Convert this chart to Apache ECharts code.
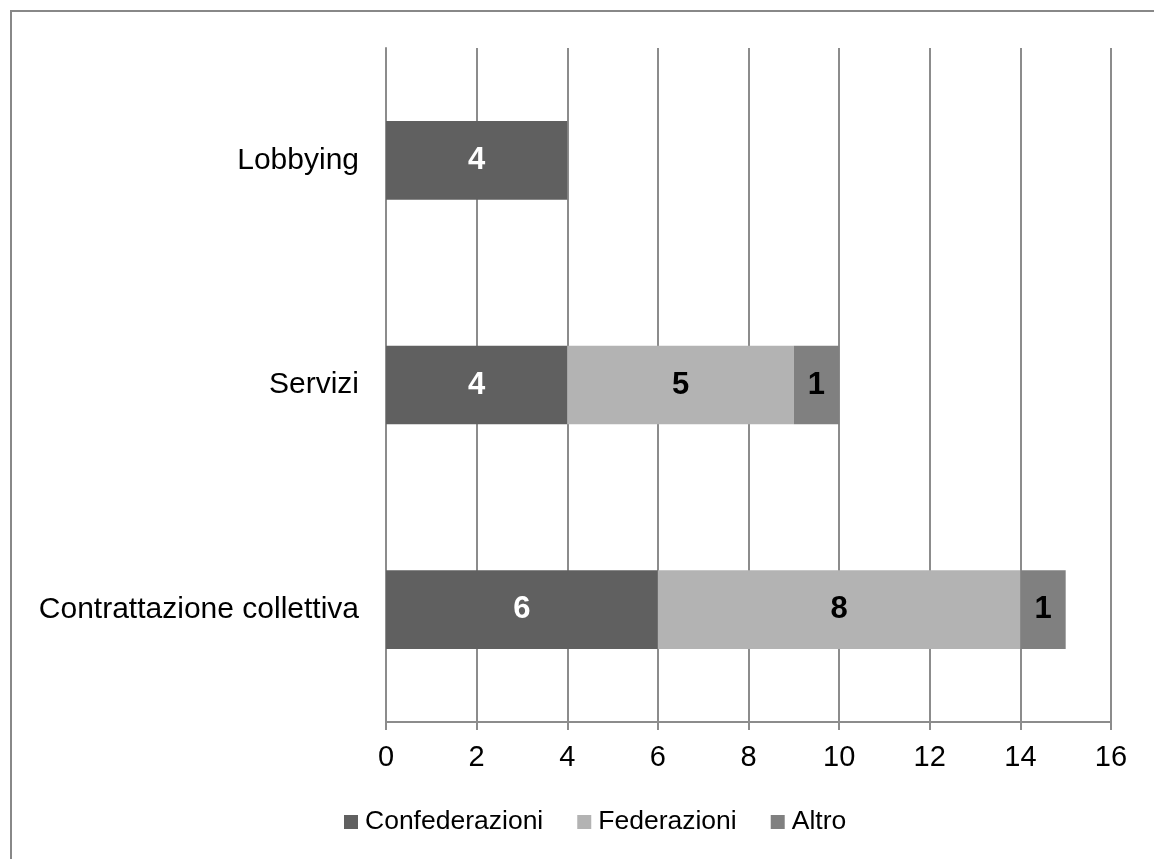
<!DOCTYPE html>
<html>
<head>
<meta charset="utf-8">
<title>Attività per tipo di organizzazione</title>
<script src="https://cdn.jsdelivr.net/npm/echarts@6/dist/echarts.min.js"></script>
<style>
  html, body { margin: 0; padding: 0; background: #ffffff; }
  #chart { width: 1154px; height: 859px; }
</style>
</head>
<body>
<div id="chart"></div>
<script>
// Categories listed bottom to top
const categories = ['Contrattazione collettiva', 'Servizi', 'Lobbying'];
const confederazioni = [6, 4, 4];
const federazioni = [8, 5, null];
const altro = [1, 1, null];
const xTicks = { min: 0, max: 16, interval: 2 };

const FONT = "'Liberation Sans', Arial, sans-serif";
const GRID_COLOR = '#8c8c8c';

function barSeries(name, data, color, labelColor) {
  return {
    name: name,
    type: 'bar',
    stack: 'tot',
    data: data,
    barWidth: '35%',
    itemStyle: { color: color },
    label: {
      show: true,
      position: 'inside',
      color: labelColor,
      fontFamily: FONT,
      fontSize: 31,
      fontWeight: 'bold',
      formatter: p => (p.value ? String(p.value) : '')
    },
    emphasis: { disabled: true }
  };
}

const chart = echarts.init(document.getElementById('chart'), null, { renderer: 'canvas' });
chart.setOption({
  animation: false,
  backgroundColor: '#ffffff',
  textStyle: { fontFamily: FONT },
  graphic: [{
    type: 'rect',
    shape: { x: 11, y: 11, width: 1170, height: 880 },
    style: { fill: 'none', stroke: '#888888', lineWidth: 2 },
    silent: true
  }],
  grid: { left: 386, right: 43, top: 48, bottom: 137, containLabel: false },
  legend: {
    left: 344,
    top: 808,
    padding: 0,
    itemWidth: 14,
    itemHeight: 14,
    itemGap: 34,
    icon: 'rect',
    textStyle: {
      fontFamily: FONT,
      fontSize: 26.5,
      color: '#000000',
      lineHeight: 28,
      padding: [0, 0, 0, 2]
    },
    data: ['Confederazioni', 'Federazioni', 'Altro']
  },
  xAxis: {
    type: 'value',
    min: xTicks.min,
    max: xTicks.max,
    interval: xTicks.interval,
    axisLine: { show: true, lineStyle: { color: GRID_COLOR, width: 2 } },
    axisTick: { show: true, length: 8, lineStyle: { color: GRID_COLOR, width: 2 } },
    axisLabel: { fontFamily: FONT, fontSize: 29, color: '#000000', margin: 21 },
    splitLine: { show: true, lineStyle: { color: GRID_COLOR, width: 2 } }
  },
  yAxis: {
    type: 'category',
    data: categories,
    axisLine: { show: true, lineStyle: { color: GRID_COLOR, width: 2 } },
    axisTick: { show: false },
    axisLabel: { fontFamily: FONT, fontSize: 30, color: '#000000', margin: 27 }
  },
  series: [
    barSeries('Confederazioni', confederazioni, '#606060', '#ffffff'),
    barSeries('Federazioni', federazioni, '#b3b3b3', '#000000'),
    barSeries('Altro', altro, '#808080', '#000000')
  ]
});
</script>
</body>
</html>
